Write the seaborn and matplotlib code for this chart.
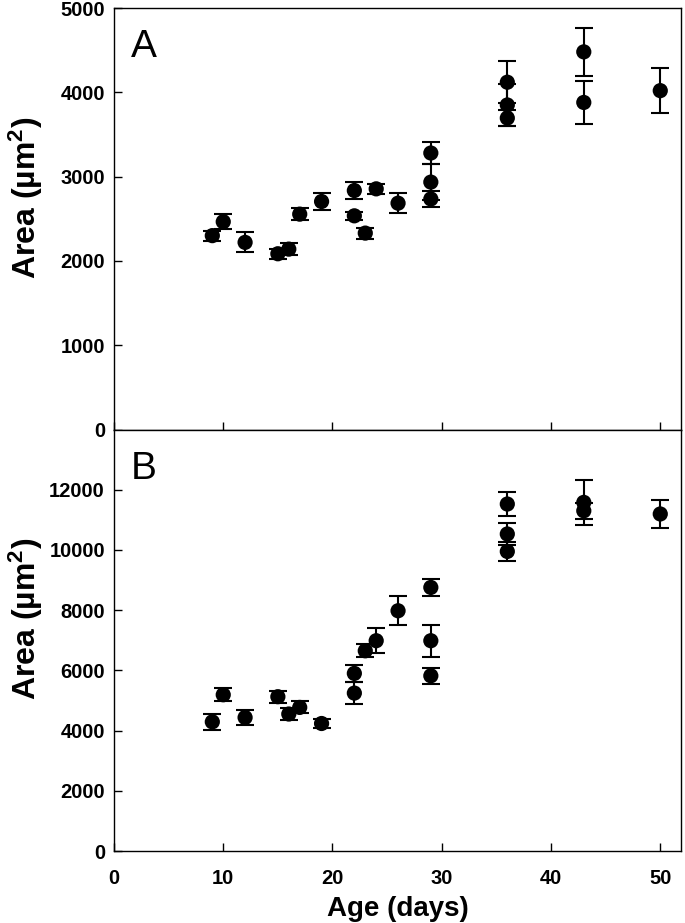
import matplotlib
matplotlib.use("Agg")
import matplotlib.pyplot as plt
import seaborn as sns
import pandas as pd

# ---- data ----
age = [9, 10, 12, 15, 16, 17, 19, 22, 22, 23, 24, 26, 29, 29, 29, 36, 36, 36, 43, 43, 50]

area_a = [2300, 2465, 2220, 2085, 2140, 2555, 2705, 2835, 2535, 2330, 2855, 2685,
          3280, 2935, 2735, 4120, 3850, 3695, 4480, 3880, 4020]
err_a = [60, 90, 120, 60, 68, 68, 97, 100, 50, 65, 60, 115,
         126, 215, 99, 250, 250, 95, 283, 257, 265]

area_b = [4290, 5190, 4435, 5125, 4550, 4770, 4235, 5900, 5245, 6650, 6985, 7980,
          8755, 6985, 5820, 11525, 10530, 9950, 11580, 11300, 11195]
err_b = [260, 215, 265, 200, 200, 200, 165, 290, 355, 210, 420, 480,
         290, 525, 265, 400, 365, 310, 755, 275, 455]

panel_labels = ["A", "B"]
ylims = [(0, 5000), (0, 14000)]
yticks = [[0, 1000, 2000, 3000, 4000, 5000], [0, 2000, 4000, 6000, 8000, 10000, 12000]]
xticks = [0, 10, 20, 30, 40, 50]

sns.set_theme(style="ticks")
plt.rcParams['font.family'] = ['Liberation Sans', 'DejaVu Sans']
plt.rcParams['mathtext.fontset'] = 'custom'
plt.rcParams['mathtext.rm'] = 'Liberation Sans:bold'
plt.rcParams['mathtext.bf'] = 'Liberation Sans:bold'
plt.rcParams['mathtext.default'] = 'bf'
plt.rcParams['text.color'] = 'black'
plt.rcParams['axes.labelcolor'] = 'black'

fig, axes = plt.subplots(2, 1, figsize=(6.85, 9.23), dpi=100, sharex=True)
fig.subplots_adjust(left=0.1664, right=0.9942, top=0.9913, bottom=0.078, hspace=0)

for ax, y, e, lab, yl, yt in zip(axes, [area_a, area_b], [err_a, err_b],
                                  panel_labels, ylims, yticks):
    df = pd.DataFrame({"age": age, "area": y, "err": e})
    ax.errorbar(df["age"], df["area"], yerr=df["err"], fmt="none", ecolor="black",
                elinewidth=1.5, capsize=6.5, capthick=1.5, zorder=2)
    sns.scatterplot(data=df, x="age", y="area", ax=ax, color="black", s=120,
                    edgecolor="none", linewidth=0, zorder=3, legend=False)
    ax.set_xlim(0, 51.9)
    ax.set_ylim(*yl)
    ax.set_yticks(yt)
    ax.set_xticks(xticks)
    ax.tick_params(direction="in", length=6, width=1, labelsize=14.5,
                   colors="black", labelcolor="black")
    ax.tick_params(axis="y", pad=6.5)
    ax.tick_params(axis="x", pad=13)
    for t in ax.get_yticklabels() + ax.get_xticklabels():
        t.set_fontweight("bold")
    for sp in ax.spines.values():
        sp.set_visible(True)
        sp.set_linewidth(1.0)
        sp.set_color("black")
    ax.set_ylabel("Area (µm$^2$)", fontsize=23, fontweight="bold")
    ax.yaxis.set_label_coords(-0.122, 0.55)
    ax.set_xlabel("")
    ax.text(0.03, 0.95, lab, transform=ax.transAxes, fontsize=28, va="top", ha="left")

axes[0].tick_params(labelbottom=False)
axes[1].set_xlabel("Age (days)", fontsize=20, fontweight="bold", labelpad=6)

fig.savefig("out.png", dpi=100)
